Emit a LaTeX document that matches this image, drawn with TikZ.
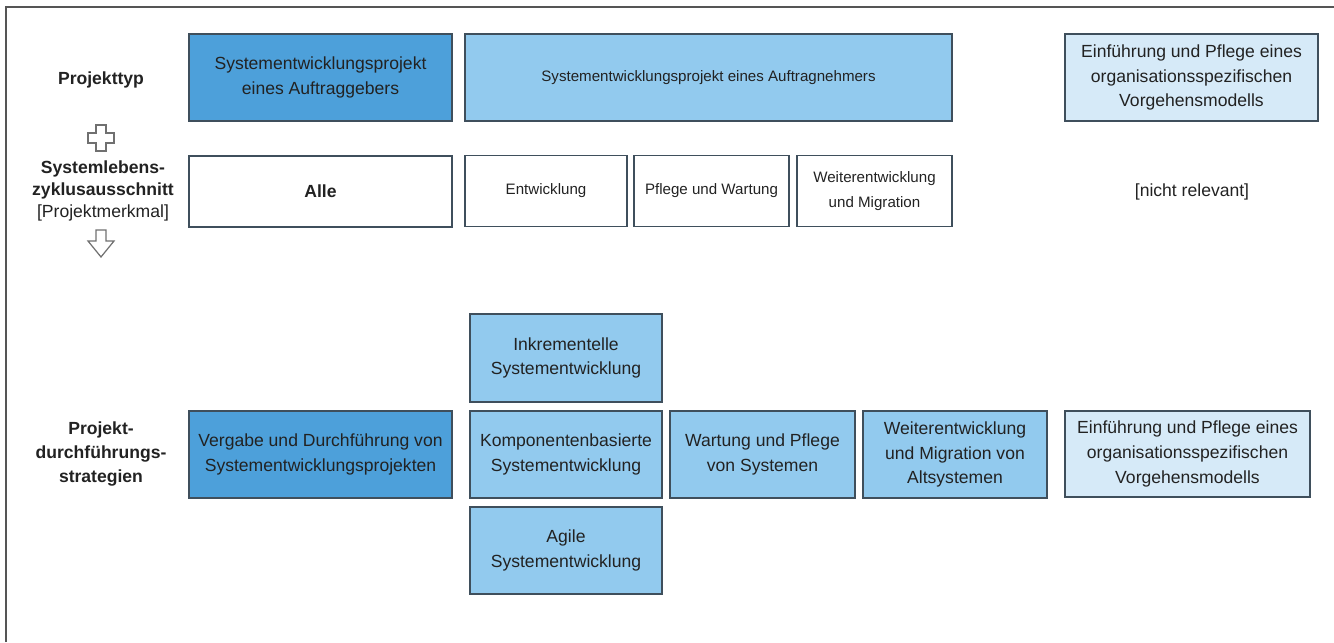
\documentclass[tikz,border=0pt]{standalone}
\usepackage{fontspec}
\setmainfont{Liberation Sans}
\definecolor{boxline}{HTML}{3F4F5C}
\definecolor{textgray}{HTML}{222222}
\definecolor{darkblue}{HTML}{4DA0DA}
\definecolor{midblue}{HTML}{92CAEE}
\definecolor{paleblue}{HTML}{D6EAF8}
\definecolor{framegray}{HTML}{555555}
\definecolor{icongray}{HTML}{707070}
\tikzset{
    box/.style={draw=boxline, line width=0.8pt, align=center, inner sep=2pt, text=textgray, font=\fontsize{10}{14}\selectfont},
    smalltext/.style={font=\fontsize{8.6}{14}\selectfont},
    rowlabel/.style={align=center, text=textgray, font=\fontsize{10}{13.5}\selectfont\bfseries},
    icon/.style={draw=icongray, line width=0.7pt, line join=miter},
    frame/.style={draw=framegray, line width=1.1pt}
}
\begin{document}
\begin{tikzpicture}[x=0.02cm, y=-0.02cm]
    \useasboundingbox (0,0) rectangle (1334,642);
    \draw[frame] (6,642) -- (6,7) -- (1334,7);

    % Projekttyp
    \node[rowlabel] (typ) at (101,80) {Projekttyp};
    \node[box, fill=darkblue, minimum width=5.26cm, minimum height=1.74cm] (auftraggeber) at (320.5,77.5) {Systementwicklungsprojekt\\eines Auftraggebers};
    \node[box, smalltext, fill=midblue, minimum width=9.74cm, minimum height=1.74cm] (auftragnehmer) at (708.5,77.5) {Systementwicklungsprojekt eines Auftragnehmers};
    \node[box, fill=paleblue, minimum width=5.06cm, minimum height=1.74cm] (vmtyp) at (1191.5,77.5) {Einführung und Pflege eines\\organisationsspezifischen\\Vorgehensmodells};

    \draw[icon] (96,125) -- (106,125) -- (106,133) -- (114,133) -- (114,143) -- (106,143) -- (106,151) -- (96,151) -- (96,143) -- (88,143) -- (88,133) -- (96,133) -- cycle;

    % Systemlebenszyklusausschnitt
    \node[rowlabel, font=\fontsize{10}{12.5}\selectfont] (lebens) at (103,191) {\textbf{Systemlebens-}\\\textbf{zyklusausschnitt}\\\mdseries[Projektmerkmal]};
    \node[box, minimum width=5.26cm, minimum height=1.42cm] (alle) at (320.5,191.5) {\textbf{Alle}};
    \node[box, smalltext, minimum width=3.24cm, minimum height=1.42cm] (entw) at (546,191) {Entwicklung};
    \node[box, smalltext, minimum width=3.1cm, minimum height=1.42cm] (pflege) at (711.5,191) {Pflege und Wartung};
    \node[box, smalltext, minimum width=3.1cm, minimum height=1.42cm] (weiter) at (874.5,191) {Weiterentwicklung\\und Migration};
    \node[text=textgray, font=\fontsize{10}{14}\selectfont] (nichtrel) at (1192,192) {[nicht relevant]};

    \draw[icon] (96,230) -- (106,230) -- (106,241) -- (114,241) -- (101,257) -- (88,241) -- (96,241) -- cycle;

    % Projektdurchfuehrungsstrategien
    \node[rowlabel] (strat) at (101,454) {Projekt-\\durchführungs-\\strategien};
    \node[box, fill=darkblue, minimum width=5.26cm, minimum height=1.74cm] (vergabe) at (320.5,454.5) {Vergabe und Durchführung von\\Systementwicklungsprojekten};
    \node[box, fill=midblue, minimum width=3.84cm, minimum height=1.76cm] (inkr) at (566,358) {Inkrementelle\\Systementwicklung};
    \node[box, fill=midblue, minimum width=3.84cm, minimum height=1.74cm] (komp) at (566,454.5) {Komponentenbasierte\\Systementwicklung};
    \node[box, fill=midblue, minimum width=3.84cm, minimum height=1.74cm] (agile) at (566,550.5) {Agile\\Systementwicklung};
    \node[box, fill=midblue, minimum width=3.7cm, minimum height=1.74cm] (wartung) at (762.5,454.5) {Wartung und Pflege\\von Systemen};
    \node[box, fill=midblue, minimum width=3.68cm, minimum height=1.74cm] (alt) at (955,454.5) {Weiterentwicklung\\und Migration von\\Altsystemen};
    \node[box, fill=paleblue, minimum width=4.9cm, minimum height=1.72cm] (vmstrat) at (1187.5,454) {Einführung und Pflege eines\\organisationsspezifischen\\Vorgehensmodells};
\end{tikzpicture}
\end{document}
